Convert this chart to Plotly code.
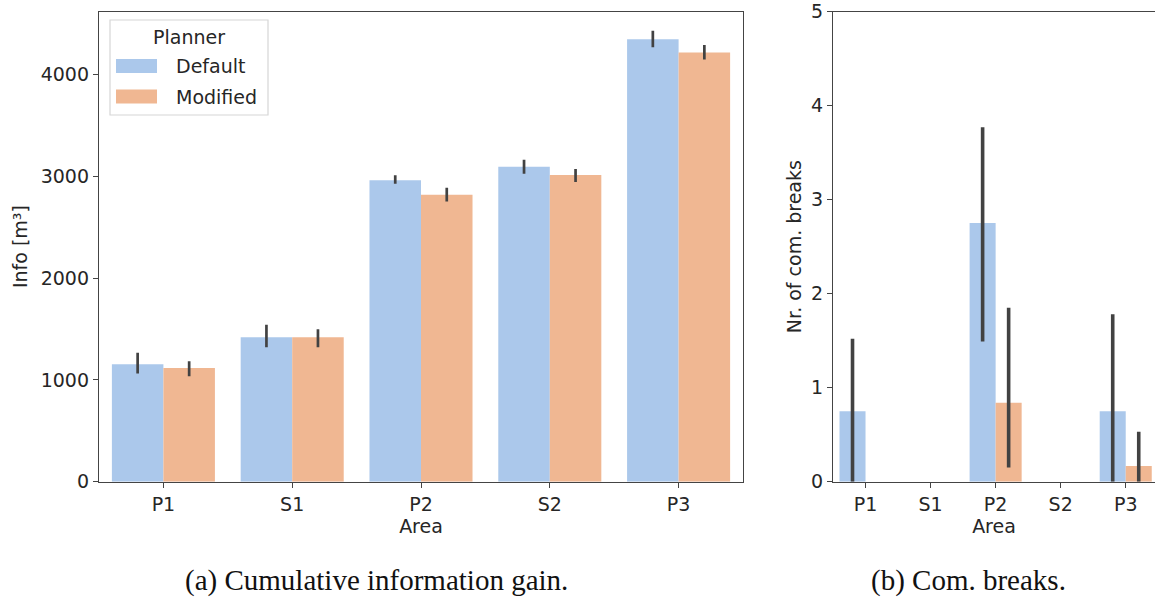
import plotly.graph_objects as go

# Areas and planners
areas = ["P1", "S1", "P2", "S2", "P3"]
planners = ["Default", "Modified"]

# Cumulative information gain [m^3]: mean and 95% CI bounds
info_default = [1155, 1420, 2961, 3095, 4347]
info_default_lo = [1064, 1322, 2928, 3026, 4269]
info_default_hi = [1266, 1541, 3010, 3164, 4430]
info_modified = [1116, 1420, 2820, 3013, 4217]
info_modified_lo = [1037, 1322, 2752, 2944, 4148]
info_modified_hi = [1184, 1498, 2889, 3072, 4292]

# Number of communication breaks: mean and 95% CI bounds
breaks_default = [0.75, 0.0, 2.75, 0.0, 0.75]
breaks_default_lo = [0.0, 0.0, 1.49, 0.0, 0.0]
breaks_default_hi = [1.52, 0.0, 3.77, 0.0, 1.78]
breaks_modified = [0.0, 0.0, 0.84, 0.0, 0.167]
breaks_modified_lo = [0.0, 0.0, 0.15, 0.0, 0.0]
breaks_modified_hi = [0.0, 0.0, 1.85, 0.0, 0.53]

W, H = 1155, 599
colors = {"Default": "#abc8eb", "Modified": "#f0b792"}
ERR = "#424242"
TXT = "#262626"
FONT = "DejaVu Sans"


def px(x):
    return x / W


def py(y):
    return 1 - y / H


def err(vals, lo, hi, thickness):
    return dict(
        type="data",
        symmetric=False,
        array=[h - v for v, h in zip(vals, hi)],
        arrayminus=[v - l for v, l in zip(vals, lo)],
        color=ERR,
        thickness=thickness,
        width=0,
    )


fig = go.Figure()

series_left = [
    ("Default", info_default, info_default_lo, info_default_hi),
    ("Modified", info_modified, info_modified_lo, info_modified_hi),
]
series_right = [
    ("Default", breaks_default, breaks_default_lo, breaks_default_hi),
    ("Modified", breaks_modified, breaks_modified_lo, breaks_modified_hi),
]

for name, vals, lo, hi in series_left:
    fig.add_trace(go.Bar(
        x=areas, y=vals, name=name, marker_color=colors[name],
        marker_line_width=0, error_y=err(vals, lo, hi, 2.7),
        xaxis="x", yaxis="y", showlegend=False,
    ))

for name, vals, lo, hi in series_right:
    fig.add_trace(go.Bar(
        x=areas, y=vals, name=name, marker_color=colors[name],
        marker_line_width=0, error_y=err(vals, lo, hi, 3.6),
        xaxis="x2", yaxis="y2", showlegend=False,
    ))

axis_common = dict(
    showline=True, linecolor="#444444", linewidth=1.3, mirror=True,
    ticks="outside", ticklen=5, tickwidth=1.2, tickcolor="#444444",
    showgrid=False, zeroline=False, automargin=False,
    tickfont=dict(family=FONT, size=19, color=TXT),
)

y_top = 11.5
y_bot = 481.7

fig.update_layout(
    width=W, height=H,
    margin=dict(l=0, r=0, t=0, b=0, autoexpand=False),
    paper_bgcolor="white", plot_bgcolor="white",
    barmode="group", bargap=0.2, bargroupgap=0,
    font=dict(family=FONT, size=19, color=TXT),
    xaxis=dict(axis_common, domain=[px(99), px(743)], anchor="y",
               type="category", categoryorder="array", categoryarray=areas,
               range=[-0.5, 4.5],
               title=dict(text="Area", standoff=6,
                          font=dict(family=FONT, size=19, color=TXT))),
    yaxis=dict(axis_common, domain=[py(y_bot), py(y_top)], anchor="x",
               range=[0, 4620], tickvals=[0, 1000, 2000, 3000, 4000],
               title=dict(text="Info [m³]", standoff=8,
                          font=dict(family=FONT, size=19, color=TXT))),
    xaxis2=dict(axis_common, domain=[px(833), 1.0], anchor="y2",
                type="category", categoryorder="array", categoryarray=areas,
                range=[-0.5, 4.45],
                title=dict(text="Area", standoff=6,
                           font=dict(family=FONT, size=19, color=TXT))),
    yaxis2=dict(axis_common, domain=[py(y_bot), py(y_top)], anchor="x2",
                range=[0, 5], tickvals=[0, 1, 2, 3, 4, 5],
                title=dict(text="Nr. of com. breaks", standoff=4,
                           font=dict(family=FONT, size=19, color=TXT))),
)

# Legend box for the left panel
shapes = [dict(type="rect", xref="paper", yref="paper",
               x0=px(110), x1=px(268), y0=py(115), y1=py(20),
               line=dict(color="#d6d6d6", width=1.2),
               fillcolor="rgba(255,255,255,0.85)", layer="above")]
annotations = [dict(text="Planner", xref="paper", yref="paper",
                    x=px(189), y=py(37), showarrow=False,
                    xanchor="center", yanchor="middle",
                    font=dict(family=FONT, size=19, color=TXT))]
for i, name in enumerate(planners):
    yc = 66 + i * 30.5
    shapes.append(dict(type="rect", xref="paper", yref="paper",
                       x0=px(116), x1=px(157), y0=py(yc + 7), y1=py(yc - 7),
                       line=dict(width=0), fillcolor=colors[name], layer="above"))
    annotations.append(dict(text=name, xref="paper", yref="paper",
                            x=px(174), y=py(yc), showarrow=False,
                            xanchor="left", yanchor="middle",
                            font=dict(family=FONT, size=19, color=TXT)))

# Sub-figure captions
annotations.append(dict(text="(a) Cumulative information gain.",
                        xref="paper", yref="paper", x=px(376), y=py(580),
                        showarrow=False, xanchor="center", yanchor="middle",
                        font=dict(family="Liberation Serif", size=29, color="#111111")))
annotations.append(dict(text="(b) Com. breaks.",
                        xref="paper", yref="paper", x=px(968), y=py(580),
                        showarrow=False, xanchor="center", yanchor="middle",
                        font=dict(family="Liberation Serif", size=29, color="#111111")))

fig.update_layout(shapes=shapes, annotations=annotations)

fig.write_html("out.html")
